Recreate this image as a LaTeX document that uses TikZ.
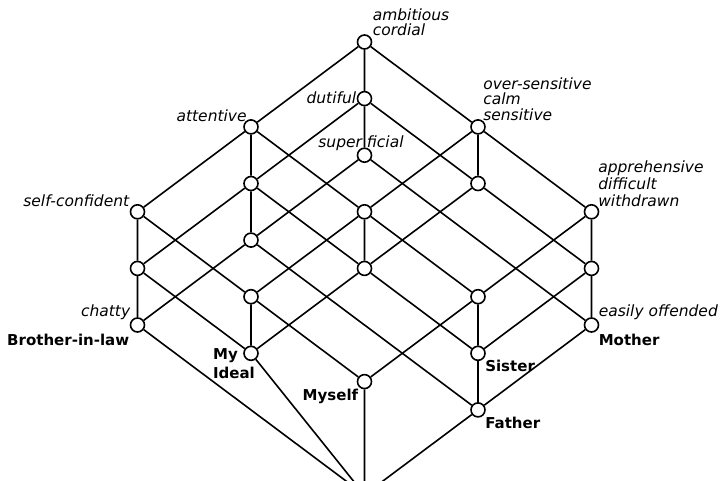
\documentclass[tikz,border=0pt]{standalone}
\usepackage{fontspec}
\usetikzlibrary{positioning}
\newfontfamily\lbfont{DejaVu Sans}
\newcommand{\attrfont}{\lbfont\itshape\fontsize{15.5}{15.5}\selectfont}
\newcommand{\attrwidefont}{\lbfont\itshape\fontsize{15.5}{17}\selectfont}
\newcommand{\objfont}{\lbfont\bfseries\fontsize{15}{19}\selectfont}

\begin{document}
\begin{tikzpicture}[node distance=84.9pt and 113.5pt, on grid]
        \tikzstyle{concept}=[circle, draw, fill=white, line width=1.6pt, minimum size=14pt, inner sep=0pt]
        \tikzstyle{attr}=[font=\attrfont, inner sep=0pt, align=left]
        \tikzstyle{obj}=[font=\objfont, inner sep=0pt, align=left]
        \tikzstyle{edge}=[draw, line width=1.6pt]

        \useasboundingbox (-364.5pt,42pt) rectangle (358.5pt,-439pt);
        \clip (-364.5pt,42pt) rectangle (358.5pt,-439pt);

        % Upper concepts
        \node[concept, label={[attr, anchor=south west, xshift=0.3pt, yshift=6pt]right:{ambitious\\cordial}}] (top) {};
        \node[concept, label={[attr, anchor=base east, xshift=-0.3pt, yshift=-5pt]left:dutiful}] (dut) [below=56.6pt of top] {};
        \node[concept, label={[attr, anchor=base, xshift=-3.5pt, yshift=0.2pt]above:super ficial}] (sup) [below=56.6pt of dut] {};
        \node[concept, label={[attr, anchor=base east, xshift=3.7pt, yshift=5pt]left:attentive}] (att) [below left=of top] {};
        \node[concept, label={[attr, anchor=south west, xshift=-2.7pt, yshift=6pt]right:{over-sensitive\\calm\\sensitive}}] (ovs) [below right=of top] {};

        % Middle concepts
        \node[concept] (n6) [below left=of dut] {};
        \node[concept] (n7) [below right=of dut] {};
        \node[concept] (n8) [below right=of att] {};
        \node[concept, label={[attr, anchor=base east, xshift=-0.3pt, yshift=5pt]left:self-confident}] (sc) [below left=of att] {};
        \node[concept, label={[attr, font=\attrwidefont, anchor=south west, xshift=-1.2pt, yshift=5pt]right:{apprehensive\\difficult\\withdrawn}}] (app) [below right=of ovs] {};
        \node[concept] (n11) [below left=of sup] {};
        \node[concept] (n13) [below left=of n6] {};
        \node[concept] (n14) [below=56.6pt of n8] {};
        \node[concept] (n15) [below=56.6pt of app] {};
        \node[concept] (n16) [below right=of sc] {};
        \node[concept] (n17) [below left=of app] {};

        % Object concepts
        \node[concept, label={[attr, anchor=base east, xshift=0.7pt, yshift=8pt]left:chatty},
                label={[obj, anchor=base east, xshift=-0.3pt, yshift=-20pt]left:Brother-in-law}] (bro) [below left=of n11] {};
        \node[concept, label={[attr, anchor=base west, xshift=-0.7pt, yshift=8pt]right:easily offended},
                label={[obj, anchor=base west, xshift=-0.7pt, yshift=-20pt]right:Mother}] (mot) [below=56.6pt of n15] {};
        \node[concept, label={[obj, anchor=north west, xshift=-30.3pt, yshift=5pt]left:{My\\Ideal}}] (ide) [below right=of n13] {};
        \node[concept, label={[obj, anchor=base west, xshift=-0.7pt, yshift=-18pt]right:Sister}] (sis) [below left=of n15] {};
        \node[concept, label={[obj, anchor=base east, xshift=1.7pt, yshift=-19pt]left:Myself}] (mys) [below right=of n16] {};
        \node[concept, label={[obj, anchor=base west, xshift=-0.7pt, yshift=-19pt]right:Father}] (fat) [below left=of mot] {};
        \node[concept] (bot) [below=113.2pt of mys] {};

        % Edges
        \draw[edge] (top) -- (att) (top) -- (ovs) (top) -- (dut);
        \draw[edge] (dut) -- (sup) (dut) -- (n6) (dut) -- (n7);
        \draw[edge] (att) -- (sc) (att) -- (n6) (att) -- (n8);
        \draw[edge] (ovs) -- (n8) (ovs) -- (n7) (ovs) -- (app);
        \draw[edge] (sup) -- (n11) (sup) -- (mot);
        \draw[edge] (n6) -- (n13) (n6) -- (n11) (n6) -- (n14);
        \draw[edge] (n7) -- (n14) (n7) -- (n15);
        \draw[edge] (n8) -- (n14) (n8) -- (n16) (n8) -- (n17);
        \draw[edge] (sc) -- (n13) (sc) -- (n16);
        \draw[edge] (app) -- (n15) (app) -- (n17);
        \draw[edge] (n11) -- (bro) (n11) -- (fat);
        \draw[edge] (n13) -- (bro) (n13) -- (ide);
        \draw[edge] (n14) -- (ide) (n14) -- (sis);
        \draw[edge] (n15) -- (mot) (n15) -- (sis);
        \draw[edge] (n16) -- (ide) (n16) -- (mys);
        \draw[edge] (n17) -- (sis) (n17) -- (mys);
        \draw[edge] (bro) -- (bot) (ide) -- (bot) (mys) -- (bot) (fat) -- (bot);
        \draw[edge] (mot) -- (fat) (sis) -- (fat);
\end{tikzpicture}
\end{document}
